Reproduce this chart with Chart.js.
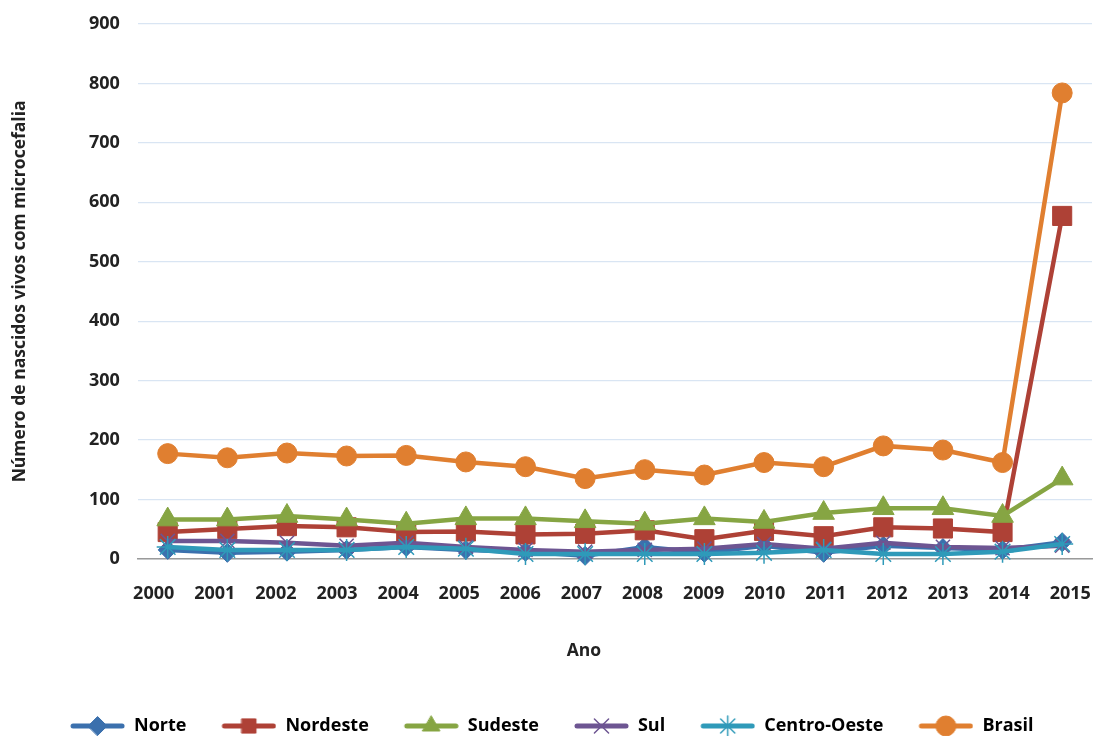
<!DOCTYPE html>
<html>
<head>
<meta charset="utf-8">
<script src="https://cdn.jsdelivr.net/npm/chart.js@4/dist/chart.umd.min.js"></script>
<style>
  html, body { margin: 0; padding: 0; background: #fff; }
  #wrap { width: 1097px; height: 736px; }
</style>
</head>
<body>
<div id="wrap"><canvas id="microcefalia"></canvas></div>
<script>
// anos e series (numero de nascidos vivos com microcefalia)
var anos = [2000, 2001, 2002, 2003, 2004, 2005, 2006, 2007, 2008, 2009, 2010, 2011, 2012, 2013, 2014, 2015];
var norte = [15, 10, 12, 15, 20, 15, 12, 5, 20, 10, 22, 10, 22, 18, 15, 28];
var nordeste = [45, 50, 55, 53, 45, 46, 41, 42, 48, 33, 47, 38, 53, 51, 45, 577];
var sudeste = [66, 66, 72, 66, 59, 68, 68, 63, 59, 68, 62, 77, 85, 85, 72, 135];
var sul = [30, 30, 27, 22, 27, 20, 15, 12, 15, 17, 25, 17, 27, 20, 18, 22];
var centroOeste = [20, 15, 15, 15, 20, 17, 8, 8, 8, 8, 10, 15, 8, 8, 12, 25];
var brasil = [177, 170, 178, 173, 174, 163, 155, 135, 150, 141, 162, 155, 190, 183, 162, 784];
var yTicks = [0, 100, 200, 300, 400, 500, 600, 700, 800, 900];

var FONT = "'Open Sans', 'Noto Sans', sans-serif";

var series = [
  { label: "Norte", data: norte, color: "#3b70ad", style: "rectRot", radius: 9.5, bw: 1 },
  { label: "Nordeste", data: nordeste, color: "#ae4136", style: "rect", radius: 13.5, bw: 1 },
  { label: "Sudeste", data: sudeste, color: "#86a543", style: "triangle", radius: 12.5, bw: 1 },
  { label: "Sul", data: sul, color: "#6d5592", style: "crossRot", radius: 10, bw: 1.5 },
  { label: "Centro-Oeste", data: centroOeste, color: "#2f9ab9", style: "star", radius: 11, bw: 1.5 },
  { label: "Brasil", data: brasil, color: "#e07f30", style: "circle", radius: 10, bw: 1 }
];

// legend icon: blank gap on the left, then line + marker
var GAP = 29, ICON_W = 55;
function legendIcon(s) {
  var c = document.createElement("canvas");
  c.width = GAP + ICON_W; c.height = 26;
  var g = c.getContext("2d");
  g.strokeStyle = s.color;
  g.lineWidth = 5;
  g.lineCap = "round";
  g.beginPath();
  g.moveTo(GAP + 3, 13); g.lineTo(GAP + ICON_W - 3, 13);
  g.stroke();
  g.fillStyle = s.color;
  g.strokeStyle = s.color;
  g.lineWidth = s.bw;
  var r = Math.min(s.radius, 10);
  Chart.helpers.drawPoint(g, { pointStyle: s.style, radius: r, rotation: 0, borderWidth: s.bw }, GAP + ICON_W / 2, 13);
  return c;
}

var datasets = series.map(function (s, i) {
  return {
    label: s.label,
    data: s.data.map(function (v, j) { return { x: anos[j], y: v }; }),
    borderColor: s.color,
    backgroundColor: s.color,
    borderWidth: 4.5,
    pointStyle: s.style,
    pointRadius: s.radius,
    pointBorderWidth: s.bw,
    pointBackgroundColor: s.color,
    pointBorderColor: s.color,
    tension: 0,
    clip: false,
    order: series.length - i,
    icon: legendIcon(s)
  };
});

// the blank gap of the first icon pushes the legend right; pull it back
var legendShift = {
  id: "legendShift",
  afterLayout: function (chart) {
    chart.legend.left -= GAP / 2 - 3;
    chart.legend.right -= GAP / 2 - 3;
  }
};

// x title drawn a bit left of centre like the original (axis title keeps the space)
var anoTitle = {
  id: "anoTitle",
  afterDraw: function (chart) {
    var sc = chart.scales.x, a = chart.chartArea, g = chart.ctx;
    g.save();
    g.fillStyle = "#222";
    g.font = "bold 17.5px " + FONT;
    g.textAlign = "center";
    g.textBaseline = "middle";
    g.fillText("Ano", (a.left + a.right) / 2 - 31, sc.bottom - 49 - 10.5);
    g.restore();
  }
};

var ctx = document.getElementById("microcefalia");
new Chart(ctx, {
  type: "line",
  data: { datasets: datasets },
  plugins: [legendShift, anoTitle],
  options: {
    responsive: true,
    maintainAspectRatio: false,
    animation: false,
    layout: { autoPadding: false, padding: { top: 24, right: 5, left: 5.5, bottom: -9 } },
    scales: {
      x: {
        type: "linear",
        min: 1999.5,
        max: 2015.5,
        afterBuildTicks: function (axis) {
          // labels sit slightly spread out from the points, as in the original
          axis.ticks = anos.map(function (v, i) {
            return { value: v + (-14 + 1.47 * i) / 59.6 };
          });
        },
        afterFit: function (axis) {
          axis.paddingLeft = 0;
          axis.paddingRight = 0;
        },
        grid: { display: false, drawTicks: false },
        border: { display: true, color: "#9a9a9a", width: 1.5 },
        ticks: {
          padding: 3,
          autoSkip: false,
          maxRotation: 0,
          color: "#222",
          font: { family: FONT, size: 18, weight: "bold" },
          // blank first line pushes the year down
          callback: function (v, i) { return ["", String(anos[i])]; }
        },
        title: {
          display: true,
          text: "Ano",
          color: "rgba(0,0,0,0)",
          font: { family: FONT, size: 17.5, weight: "bold" },
          padding: { top: 33, bottom: 49 }
        }
      },
      y: {
        min: 0,
        max: 900,
        afterBuildTicks: function (axis) {
          axis.ticks = yTicks.map(function (v) { return { value: v }; });
        },
        afterFit: function (axis) {
          axis.paddingTop = 0;
          axis.paddingBottom = 0;
        },
        grid: { color: "#d9e5f3", lineWidth: 1.2, drawTicks: false },
        border: { display: false },
        ticks: {
          padding: 18,
          color: "#222",
          font: { family: FONT, size: 18, weight: "bold" }
        },
        title: {
          display: true,
          text: "Número de nascidos vivos com microcefalia",
          color: "#222",
          font: { family: FONT, size: 17.5, weight: "bold" },
          padding: { top: 4, bottom: 40.5 }
        }
      }
    },
    plugins: {
      tooltip: { enabled: false },
      legend: {
        display: true,
        position: "bottom",
        labels: {
          usePointStyle: true,
          pointStyleWidth: GAP + ICON_W,
          padding: 6,
          color: "#222",
          font: { family: FONT, size: 18, weight: "bold" },
          generateLabels: function (chart) {
            return chart.data.datasets.map(function (ds, i) {
              return {
                text: ds.label,
                fillStyle: ds.borderColor,
                strokeStyle: ds.borderColor,
                pointStyle: ds.icon,
                lineWidth: 0,
                hidden: false,
                datasetIndex: i
              };
            });
          }
        }
      }
    }
  }
});
</script>
</body>
</html>
